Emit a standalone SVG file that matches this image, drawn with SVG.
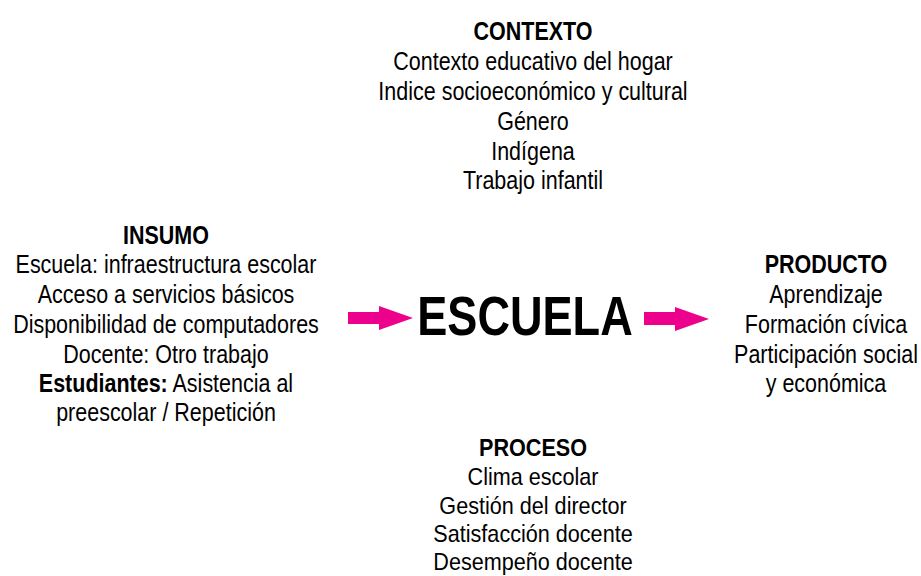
<svg xmlns="http://www.w3.org/2000/svg" width="921" height="576" viewBox="0 0 921 576">
<style>
text{font-family:"Liberation Sans",Arial,sans-serif;font-size:25px;fill:#000;text-anchor:middle}
.h{font-weight:bold}
.s{font-size:24px}
.big{font-size:55px;font-weight:bold}
.arrow{fill:#EC008C}
</style>
<rect width="921" height="576" fill="#fff"/>
<g id="contexto" transform="translate(533 0) scale(0.86 1)">
<text class="h" x="0" y="40">CONTEXTO</text>
<text x="0" y="70">Contexto educativo del hogar</text>
<text x="0" y="100">Indice socioeconómico y cultural</text>
<text x="0" y="130">Género</text>
<text x="0" y="160">Indígena</text>
<text x="0" y="189">Trabajo infantil</text>
</g>
<g id="insumo" transform="translate(166 0) scale(0.86 1)">
<text class="h" x="0" y="244">INSUMO</text>
<text x="0" y="273">Escuela: infraestructura escolar</text>
<text x="0" y="303">Acceso a servicios básicos</text>
<text x="0" y="333">Disponibilidad de computadores</text>
<text x="0" y="363">Docente: Otro trabajo</text>
<text x="0" y="392"><tspan class="h">Estudiantes:</tspan> Asistencia al</text>
<text x="0" y="421">preescolar / Repetición</text>
</g>
<g id="escuela" transform="translate(525 0) scale(0.82 1)">
<text class="big" x="0" y="335">ESCUELA</text>
</g>
<g id="producto" transform="translate(826 0) scale(0.86 1)">
<text class="h" x="0" y="273">PRODUCTO</text>
<text x="0" y="303">Aprendizaje</text>
<text x="0" y="333">Formación cívica</text>
<text x="0" y="363">Participación social</text>
<text x="0" y="392">y económica</text>
</g>
<g id="proceso" transform="translate(533 0) scale(0.9 1)">
<text class="h s" x="0" y="456">PROCESO</text>
<text class="s" x="0" y="485">Clima escolar</text>
<text class="s" x="0" y="514">Gestión del director</text>
<text class="s" x="0" y="542">Satisfacción docente</text>
<text class="s" x="0" y="570">Desempeño docente</text>
</g>
<g id="connectors">
<polygon class="arrow" points="348,312 379,312 379,306 413,318 379,330 379,324 348,324"/>
<polygon class="arrow" points="644,312 675,312 675,307 709,319 675,331 675,325 644,325"/>
</g>
</svg>
